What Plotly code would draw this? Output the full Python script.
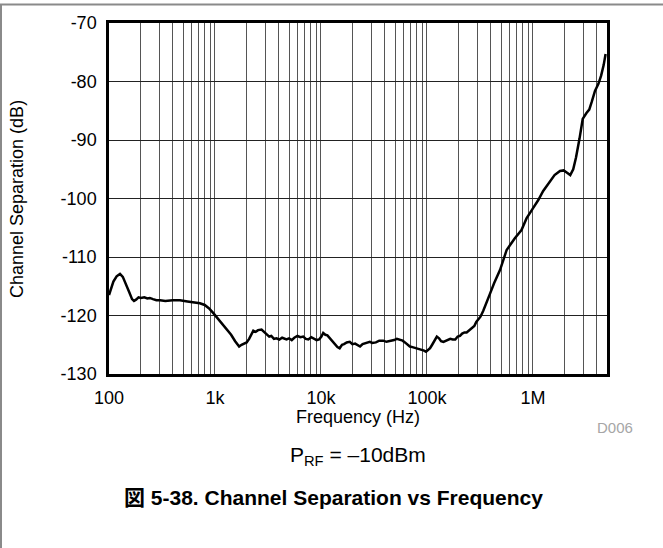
import plotly.graph_objects as go

# Measured channel separation across frequency
freq_hz = [
    100, 105, 110, 118, 127, 135, 145, 155, 165, 172, 180, 190, 200, 215, 230, 243,
    260, 280, 303, 340, 400, 467, 550, 640, 721, 800, 880, 965, 1050, 1150, 1290,
    1420, 1550, 1690, 1780, 1850, 1990, 2100, 2200, 2300, 2420, 2550, 2750, 2900,
    3070, 3250, 3400, 3600, 3800, 4050, 4300, 4500, 4730, 5000, 5300, 5600, 6000,
    6400, 6800, 7200, 7600, 8100, 8600, 9100, 9600, 10100, 10500, 11000, 11500,
    12000, 12700, 13500, 14300, 15000, 15800, 16500, 17500, 18700, 19800, 21000,
    22200, 23400, 24700, 26000, 27500, 28900, 30500, 33000, 35500, 38700, 41500,
    45000, 49000, 52000, 55500, 59000, 62000, 65500, 69000, 73000, 77000, 81000,
    85900, 90000, 94000, 98000, 102000, 107000, 112000, 118000, 124000, 130000,
    136000, 143000, 150000, 158000, 166000, 175000, 185000, 195000, 205000, 215000,
    226000, 237000, 247000, 258000, 268000, 280000, 292000, 305000, 320000, 340000,
    365000, 393000, 430000, 490000, 565000, 675000, 780000, 870000, 1000000,
    1120000, 1250000, 1420000, 1600000, 1800000, 1950000, 2100000, 2250000,
    2400000, 2550000, 2750000, 2950000, 3200000, 3400000, 3600000, 3850000,
    4150000, 4400000, 4650000, 4850000, 5000000,
]
separation_db = [
    -116.5, -115.2, -114.2, -113.3, -112.9, -113.4, -114.6, -116.0, -117.2, -117.5,
    -117.3, -116.9, -117.0, -116.9, -117.1, -117.0, -117.2, -117.4, -117.4, -117.5,
    -117.4, -117.4, -117.6, -117.7, -117.9, -118.2, -118.8, -119.6, -120.4, -121.3,
    -122.2, -123.3, -124.4, -125.3, -125.0, -124.9, -124.6, -124.0, -123.2, -122.6,
    -122.8, -122.5, -122.4, -122.8, -123.1, -123.6, -123.5, -124.0, -123.9, -124.1,
    -123.8, -124.0, -124.1, -123.9, -124.2, -123.8, -123.5, -123.7, -123.6, -124.0,
    -124.1, -123.7, -123.9, -124.2, -124.1, -123.6, -123.0, -123.3, -123.4, -123.8,
    -124.2, -124.9, -125.4, -125.6, -125.0, -124.9, -124.6, -124.5, -124.9, -124.8,
    -125.1, -125.3, -124.9, -124.8, -124.6, -124.5, -124.7, -124.6, -124.3, -124.3,
    -124.5, -124.4, -124.2, -124.0, -124.1, -124.3, -124.6, -125.0, -125.3, -125.4,
    -125.5, -125.7, -125.8, -125.9, -126.0, -126.2, -125.9, -125.6, -125.0, -124.3,
    -123.6, -123.9, -124.4, -124.5, -124.3, -124.2, -124.0, -124.1, -124.1, -123.6,
    -123.5, -123.1, -122.9, -122.9, -122.6, -122.4, -122.1, -121.8, -121.1, -120.7,
    -120.2, -119.2, -117.9, -116.3, -114.5, -112.2, -108.8, -106.8, -105.4, -103.4,
    -101.7, -100.3, -98.7, -97.3, -96.0, -95.3, -95.2, -95.6, -96.0, -95.0,
    -93.0, -89.8, -86.4, -85.4, -84.8, -83.4, -81.6, -80.4, -79.0, -77.2, -75.3,
]

decades = [100, 1000, 10000, 100000, 1000000]
decade_labels = ["100", "1k", "10k", "100k", "1M"]
y_ticks = [-70, -80, -90, -100, -110, -120, -130]
y_labels = ["-70", "-80", "-90", "-100", "-110", "-120", "-130"]

# every 1..9 multiple of each decade gets a grid line; only decades are labelled
grid_vals, grid_text = [], []
for d, lab in zip(decades, decade_labels):
    for m in range(1, 10):
        v = d * m
        if v > 5_000_000:
            break
        grid_vals.append(v)
        grid_text.append(lab if m == 1 else "")

FONT = "Liberation Sans, Arial, Noto Sans CJK JP, sans-serif"

fig = go.Figure(
    go.Scatter(
        x=freq_hz,
        y=separation_db,
        mode="lines",
        line=dict(color="black", width=2.5),
        hoverinfo="skip",
    )
)

W, H = 663, 548
L, R, T, B = 109, 56, 23, 174

fig.update_layout(
    width=W,
    height=H,
    margin=dict(l=L, r=R, t=T, b=B),
    paper_bgcolor="white",
    plot_bgcolor="white",
    showlegend=False,
    font=dict(family=FONT, color="black", size=18),
)

fig.update_xaxes(
    type="log",
    range=[2, 6.69897],
    tickvals=grid_vals,
    ticktext=grid_text,
    ticks="",
    ticklabelstandoff=6,
    showgrid=True,
    gridcolor="#555555",
    gridwidth=1,
    showline=True,
    linecolor="black",
    linewidth=2.5,
    mirror=True,
    zeroline=False,
    tickfont=dict(size=18),
)
fig.update_yaxes(
    range=[-130, -70],
    tickvals=y_ticks,
    ticktext=y_labels,
    ticks="",
    ticklabelstandoff=6,
    showgrid=True,
    gridcolor="#222222",
    gridwidth=1,
    showline=True,
    linecolor="black",
    linewidth=2.5,
    mirror=True,
    zeroline=False,
    tickfont=dict(size=18),
)

pw = W - L - R
ph = H - T - B


def px_x(x):
    return (x - L) / pw


def px_y(y):
    return (H - B - y) / ph


# page frame lines (top and left edges)
fig.add_shape(type="line", xref="paper", yref="paper",
              x0=px_x(0), x1=px_x(W), y0=px_y(4.5), y1=px_y(4.5),
              line=dict(color="#8a8a8a", width=2))
fig.add_shape(type="line", xref="paper", yref="paper",
              x0=px_x(1), x1=px_x(1), y0=px_y(4.5), y1=px_y(H),
              line=dict(color="#8a8a8a", width=2))


def label(text, x, y, size, color="black", angle=0):
    fig.add_annotation(xref="paper", yref="paper", x=px_x(x), y=px_y(y),
                       xanchor="center", yanchor="middle", text=text,
                       textangle=angle, showarrow=False,
                       font=dict(size=size, color=color))


label("Channel Separation (dB)", 17, 199, 18, angle=-90)
label("Frequency (Hz)", 358, 417, 18)
label("D006", 615, 428, 15, color="#a6a6a6")
label("P<sub>RF</sub> = \u201310dBm", 358, 456, 21)
label("<b>図 5-38. Channel Separation vs Frequency</b>", 333, 497, 21)

fig.write_html("out.html")
